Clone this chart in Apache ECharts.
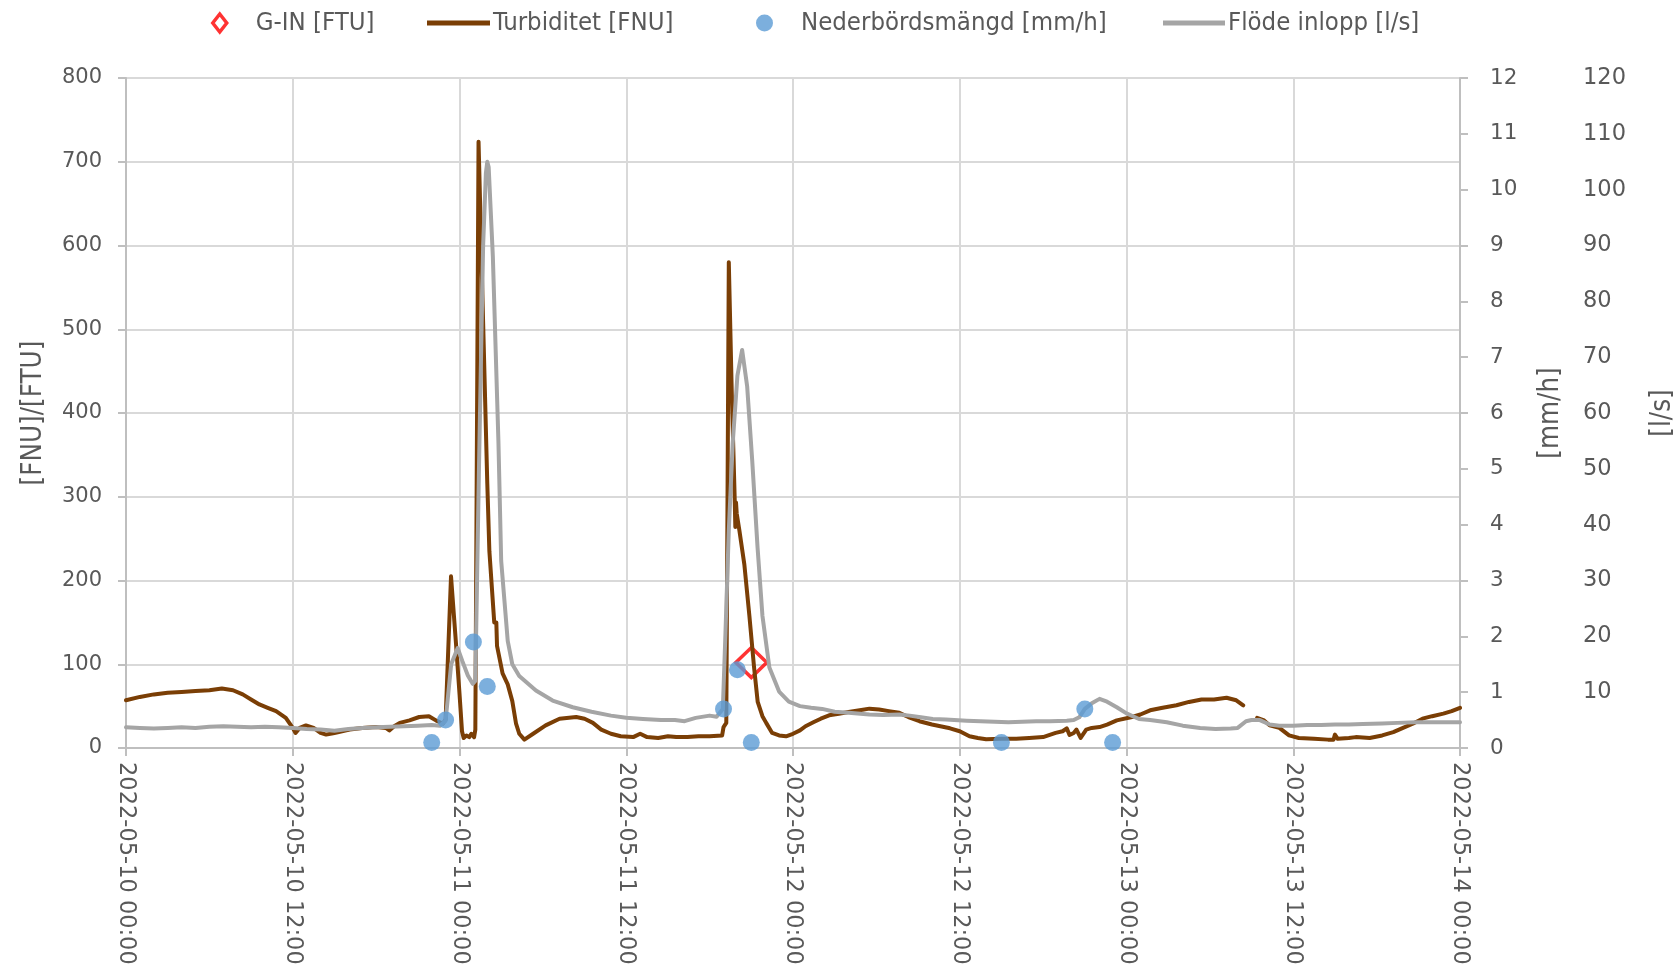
<!DOCTYPE html>
<html>
<head>
<meta charset="utf-8">
<title>Turbiditet, nederbörd och flöde 2022-05-10 – 2022-05-14</title>
<script src="https://cdn.jsdelivr.net/npm/echarts@6/dist/echarts.min.js"></script>
<style>
  html, body { margin: 0; padding: 0; background: #fff; }
  #chart { width: 1680px; height: 969px; }
</style>
</head>
<body>
<div id="chart"></div>
<script>
// Time is given in hours after 2022-05-10 00:00.
const START_UTC = Date.UTC(2022, 4, 10, 0, 0);

// G-IN lab sample [FTU]
const ginHours = [45.0];
const ginValues = [102];

// Turbiditet [FNU]; null marks the gap in the logger record
const turbHours = [
  0, 1, 2, 3, 4, 5, 6, 6.9, 7.7, 8.4, 9.0, 9.6, 10.2, 10.8, 11.5, 12.0, 12.2, 12.5, 12.95, 13.5,
  14.0, 14.4, 15.0, 16.1, 17.0, 18.0, 18.7, 18.95, 19.3, 19.7, 20.4, 21.1, 21.8, 22.3, 22.8, 23.0,
  23.39, 23.75, 24.0, 24.18, 24.3, 24.5, 24.7, 24.85, 25.05, 25.14, 25.37, 25.7, 26.0, 26.15, 26.5,
  26.6, 26.65, 26.7, 27.1, 27.47, 27.8, 28.07, 28.3, 28.67, 29.3, 30.2, 31.2, 32.4, 33.0, 33.6,
  34.2, 34.9, 35.6, 36.5, 37.0, 37.5, 38.3, 39.0, 39.6, 40.4, 41.2, 42.0, 42.9, 43.0, 43.2,
  43.38, 43.6, 43.8, 43.85, 43.9, 43.95, 44.14, 44.5, 44.86, 45.2, 45.46, 45.8, 46.07, 46.5,
  47.0, 47.5, 48.0, 48.5, 48.9, 49.5, 50.0, 50.6, 51.3, 52.0, 52.8, 53.5, 54.2, 54.9,
  55.65, 56.3, 57.1, 58.0, 59.3, 60.0, 60.7, 61.3, 61.9, 63.0, 64.06, 65.0, 66.0, 66.9, 67.4, 67.7,
  67.9, 68.2, 68.4, 68.7, 69.1, 69.5, 70.06, 70.6, 71.3, 72.4, 73.0, 73.7, 74.6, 75.6, 76.5, 77.4,
  78.3, 79.2, 79.9, 80.4, 80.8,
  81.4, 81.9, 82.3, 83.0, 83.7, 84.4, 85.5, 86.5, 86.9, 87.0, 87.2, 88.0, 88.5, 89.5, 90.4, 91.2,
  91.9, 92.6, 93.3, 94.0, 94.8, 95.4, 96.0
];
const turbValues = [
  57, 61, 64, 66, 67, 68, 69, 71, 69, 64, 58, 52, 48, 44, 36, 24, 18, 24, 27, 24,
  18, 16, 18, 22, 24, 25, 24, 21, 26, 30, 33, 37, 38, 33, 29, 34,
  205, 124, 65, 20, 12, 15, 13, 17, 13, 22, 724, 508, 316, 235, 150,
  148, 150, 122, 89, 76, 56, 29, 17, 10, 17, 27, 35, 37, 35, 30,
  22, 17, 14, 13, 17, 13, 12, 14, 13, 13, 14, 14, 15, 25, 30,
  580, 420, 300, 264, 293, 280, 260, 219, 158, 96, 55, 38, 30, 18,
  15, 14, 17, 21, 26, 31, 35, 39, 41, 43, 45, 47, 46, 44,
  42, 37, 32, 28, 23.5, 20, 14, 12, 10.5, 11, 11, 12, 13, 18, 20, 23.5,
  15.5, 18, 22, 12, 22, 24, 25, 28, 33, 37, 40, 45, 48, 51, 55, 58,
  58, 60, 57, 51, null,
  36, 33, 27, 24, 15, 12, 11, 10, 10, 16, 11, 12, 13, 12, 15, 19,
  24, 29, 35, 38, 41, 44, 48
];

// Nederbördsmängd [mm/h], hourly totals
const rainHours = [22, 23, 25, 26, 43, 44, 45, 63, 69, 71];
const rainValues = [0.1, 0.5, 1.9, 1.1, 0.7, 1.4, 0.1, 0.1, 0.7, 0.1];

// Flöde inlopp [l/s]
const flowHours = [
  0, 1, 2, 3, 4, 5, 6, 7, 8, 9, 10, 11, 12, 13, 14, 15, 16, 17, 18, 19, 20, 21, 22, 22.6,
  23.0, 23.4, 23.87, 24.2, 24.6, 24.95, 25.14, 25.4, 25.7, 25.9, 26.0, 26.1, 26.4, 26.8, 27.0,
  27.47, 27.8, 28.3, 29.5, 30.7, 32.15, 33.5, 34.9, 36.0, 37.2, 38.5, 39.5, 40.2, 41.0, 42.0,
  42.5, 42.95, 43.14, 43.38, 43.66, 44.0, 44.34, 44.7, 45.07, 45.45, 45.8, 46.3, 47.0, 47.7,
  48.5, 49.3, 50.1, 51.0, 52.0, 53.5, 54.5, 55.65,
  56.4, 57.2, 58.06, 59.0, 60.5, 61.5, 62.5, 63.5, 64.5, 65.5, 66.5, 67.7, 68.2, 68.6, 69.0,
  69.5, 70.06, 70.6, 71.3, 72.0, 72.9, 73.7, 74.9, 76.05, 77.3, 78.4, 79.5, 80.0, 80.6, 81.0,
  81.6, 82.3, 83.0, 84.0, 85.0, 86.0, 87.0, 88.0, 89.0, 90.4, 91.5, 92.85, 94.0, 95.0, 96.0
];
const flowValues = [
  3.7, 3.6, 3.5, 3.6, 3.7, 3.6, 3.8, 3.9, 3.8, 3.7, 3.8, 3.7, 3.6, 3.4, 3.3, 3.1, 3.4, 3.6, 3.7, 3.8, 3.9, 4.0, 4.1, 4.0,
  4.9, 15, 17.9, 15.6, 13, 11.5, 12, 50, 90, 103, 105, 104, 88, 55, 33.5,
  19.2, 15, 12.9, 10.3, 8.5, 7.3, 6.5, 5.8, 5.4, 5.2, 5.0, 5.0, 4.8, 5.4, 5.8,
  5.6, 7.0, 20.6, 39, 54.5, 66.7, 71.3, 64.8, 51.3, 35.9, 23.7, 14.4, 10.1, 8.3,
  7.5, 7.2, 7.0, 6.5, 6.3, 6.0, 5.9, 6.0,
  5.8, 5.5, 5.2, 5.1, 4.9, 4.8, 4.7, 4.6, 4.7, 4.8, 4.8, 4.9, 5.0, 5.5, 7.0,
  8.0, 8.8, 8.3, 7.3, 6.2, 5.2, 5.0, 4.6, 4.0, 3.6, 3.4, 3.5, 3.6, 4.8, 5.0,
  5.0, 4.2, 4.0, 4.0, 4.1, 4.1, 4.2, 4.2, 4.3, 4.4, 4.5, 4.6, 4.6, 4.6, 4.6
];

const pairs = (xs, ys) => xs.map((x, i) => [x, ys[i]]);

function dateLabel(h) {
  const d = new Date(START_UTC + h * 3600000);
  const p = n => String(n).padStart(2, '0');
  return d.getUTCFullYear() + '-' + p(d.getUTCMonth() + 1) + '-' + p(d.getUTCDate()) +
         ' ' + p(d.getUTCHours()) + ':' + p(d.getUTCMinutes());
}

const TICK_FONT = "'DejaVu Sans', Verdana, sans-serif";
const TEXT_FONT = "'Liberation Sans Narrow', 'DejaVu Sans Condensed', 'Open Sans', sans-serif";
const GREY_TEXT = '#595959';
const GRID_COLOR = '#d9d9d9';
const AXIS_COLOR = '#bfbfbf';
const BROWN = '#7a3e05';
const GREY_LINE = '#a5a5a5';

const legendText = { color: GREY_TEXT, fontFamily: TEXT_FONT, fontSize: 25.5 };
const nameText = { color: GREY_TEXT, fontFamily: TEXT_FONT, fontSize: 27.5 };

const chart = echarts.init(document.getElementById('chart'), null, { renderer: 'canvas' });

chart.setOption({
  animation: false,
  backgroundColor: '#ffffff',
  grid: {
    left: 126, right: 220, top: 78, bottom: 221,
    containLabel: false, outerBoundsMode: 'none'
  },
  legend: [
    {
      left: 206, top: 5, itemWidth: 14, itemHeight: 18, selectedMode: false,
      textStyle: Object.assign({ padding: [0, 0, 0, 24] }, legendText),
      data: [{ name: 'G-IN [FTU]', icon: 'diamond',
               itemStyle: { color: '#ffffff', borderColor: '#ff0000', borderWidth: 3.5 } }]
    },
    {
      left: 422, top: 5, itemWidth: 63, itemHeight: 5, selectedMode: false,
      textStyle: Object.assign({ padding: [0, 0, 0, -2] }, legendText),
      data: [{ name: 'Turbiditet [FNU]', icon: 'rect' }]
    },
    {
      left: 751, top: 5, itemWidth: 17, itemHeight: 17, selectedMode: false,
      textStyle: Object.assign({ padding: [0, 0, 0, 23] }, legendText),
      data: [{ name: 'Nederbördsmängd [mm/h]', icon: 'circle' }]
    },
    {
      left: 1158, top: 5, itemWidth: 62, itemHeight: 5, selectedMode: false,
      textStyle: Object.assign({ padding: [0, 0, 0, -2] }, legendText),
      data: [{ name: 'Flöde inlopp [l/s]', icon: 'rect' }]
    }
  ],
  xAxis: {
    type: 'value',
    min: 0, max: 96, interval: 12,
    axisLine: { show: true, onZero: false, lineStyle: { color: AXIS_COLOR, width: 2 } },
    axisTick: { show: true, length: 8, lineStyle: { color: AXIS_COLOR, width: 2 } },
    splitLine: { show: true, lineStyle: { color: GRID_COLOR, width: 2 } },
    axisLabel: {
      rotate: -90, margin: 14, color: GREY_TEXT, fontFamily: TICK_FONT, fontSize: 22.5,
      formatter: v => dateLabel(v)
    }
  },
  yAxis: [
    {
      type: 'value', position: 'left',
      min: 0, max: 800, interval: 100,
      name: '[FNU]/[FTU]', nameLocation: 'middle', nameGap: 78, nameRotate: 90,
      nameTextStyle: nameText,
      axisLine: { show: true, lineStyle: { color: AXIS_COLOR, width: 2 } },
      axisTick: { show: true, length: 8, lineStyle: { color: AXIS_COLOR, width: 2 } },
      splitLine: { show: true, lineStyle: { color: GRID_COLOR, width: 2 } },
      axisLabel: { margin: 24, color: GREY_TEXT, fontFamily: TICK_FONT, fontSize: 21 }
    },
    {
      type: 'value', position: 'right',
      min: 0, max: 12, interval: 1,
      name: '[mm/h]', nameLocation: 'middle', nameGap: 77, nameRotate: 90,
      nameTextStyle: nameText,
      axisLine: { show: true, lineStyle: { color: AXIS_COLOR, width: 2 } },
      axisTick: { show: true, length: 8, lineStyle: { color: AXIS_COLOR, width: 2 } },
      splitLine: { show: false },
      axisLabel: { margin: 30, color: GREY_TEXT, fontFamily: TICK_FONT, fontSize: 21.5 }
    },
    {
      type: 'value', position: 'right', offset: 114,
      min: 0, max: 120, interval: 10,
      name: '[l/s]', nameLocation: 'middle', nameGap: 75, nameRotate: 90,
      nameTextStyle: nameText,
      axisLine: { show: false },
      axisTick: { show: false },
      splitLine: { show: false },
      axisLabel: {
        margin: 9, color: GREY_TEXT, fontFamily: TICK_FONT, fontSize: 22.5,
        formatter: v => (v === 0 ? '' : String(v))
      }
    }
  ],
  series: [
    {
      name: 'G-IN [FTU]', type: 'scatter', yAxisIndex: 0, z: 1,
      symbol: 'diamond', symbolSize: [31, 30],
      itemStyle: { color: 'rgba(255,255,255,0)', borderColor: '#ff0000', borderWidth: 3.5 },
      data: pairs(ginHours, ginValues)
    },
    {
      name: 'Turbiditet [FNU]', type: 'line', yAxisIndex: 0, z: 2,
      showSymbol: false, symbol: 'none', connectNulls: false,
      lineStyle: { color: BROWN, width: 4, join: 'round', cap: 'round' },
      itemStyle: { color: BROWN },
      data: pairs(turbHours, turbValues)
    },
    {
      name: 'Flöde inlopp [l/s]', type: 'line', yAxisIndex: 2, z: 3,
      showSymbol: false, symbol: 'none',
      lineStyle: { color: GREY_LINE, width: 4, join: 'round', cap: 'round' },
      itemStyle: { color: GREY_LINE },
      data: pairs(flowHours, flowValues)
    },
    {
      name: 'Nederbördsmängd [mm/h]', type: 'scatter', yAxisIndex: 1, z: 4,
      symbol: 'circle', symbolSize: 17,
      itemStyle: { color: '#5b9bd5' },
      data: pairs(rainHours, rainValues)
    }
  ]
});
</script>
</body>
</html>
